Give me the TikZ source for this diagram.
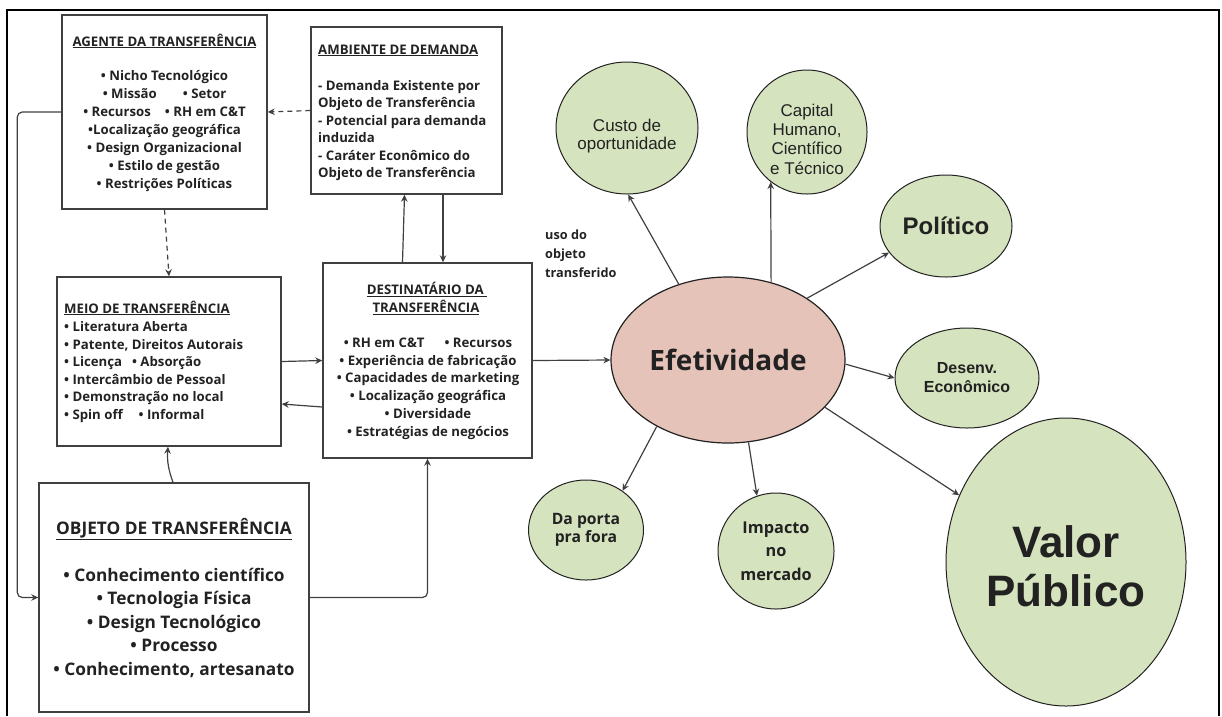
\documentclass[tikz,border=0pt]{standalone}
\usepackage{fontspec}
\setmainfont{Open Sans}
\newfontfamily\arialfont{Liberation Sans}
\usetikzlibrary{arrows.meta,shapes.geometric,calc}
\definecolor{boxline}{HTML}{404040}
\definecolor{ink}{HTML}{222222}
\definecolor{leaf}{RGB}{213,227,190}
\definecolor{rose}{RGB}{229,195,184}
\begin{document}
\begin{tikzpicture}[x=1pt,y=-1pt,
  box/.style={draw=boxline, line width=1.4pt, inner sep=0pt},
  txt/.style={text=ink, inner sep=0pt, font=\fontsize{13.2}{15}\selectfont\bfseries},
  bigtxt/.style={text=ink, inner sep=0pt, font=\fontsize{17.3}{20}\selectfont\bfseries},
  arr/.style={draw=boxline, line width=1.2pt, -{Stealth[length=7pt,width=6.5pt]}},
  darr/.style={arr, dash pattern=on 5pt off 4pt},
  leafnode/.style={ellipse, draw=ink, line width=1pt, fill=leaf, text=ink, align=center, inner sep=0pt},
  inlabel/.style={text=ink, align=center, inner sep=0pt},
]
\useasboundingbox (0,0) rectangle (1222,716);
% outer frame (open at the bottom)
\draw[line width=2pt, black] (7,716) -- (7,10) -- (1219,10) -- (1219,716);

% ---------- rectangular blocks ----------
\node[box, minimum width=205pt, minimum height=194pt] (agente) at (164.5,112) {};
\node[box, minimum width=191pt, minimum height=167pt] (amb) at (406.5,110.5) {};
\node[box, minimum width=224pt, minimum height=169pt] (meio) at (169,361.5) {};
\node[box, minimum width=209pt, minimum height=195pt] (dest) at (427.5,360.5) {};
\node[box, minimum width=270pt, minimum height=229pt] (objeto) at (174,597.5) {};

% Agente da transferencia
\node[txt, anchor=base] (agtT) at (164.5,46) {\underline{AGENTE DA TRANSFERÊNCIA}};
\foreach \t [count=\i] in {{• Nicho Tecnológico},
  {• Missão\hspace*{26pt}• Setor},
  {• Recursos\hspace*{14pt}• RH em C\&T},
  {•Localização geográfica},
  {• Design Organizacional},
  {• Estilo de gestão},
  {• Restrições Políticas}}
  \node[txt, anchor=base] (agt\i) at (164.5,{80+18*(\i-1)}) {\t};

% Ambiente de demanda
\node[txt, anchor=base west] (ambT) at (318,54) {\underline{AMBIENTE DE DEMANDA}};
\foreach \t [count=\i] in {{- Demanda Existente por},
  {Objeto de Transferência},
  {- Potencial para demanda},
  {induzida},
  {- Caráter Econômico do},
  {Objeto de Transferência}}
  \node[txt, anchor=base west] (amb\i) at (318,{90+17.5*(\i-1)}) {\t};

% Meio de transferencia
\node[txt, anchor=base west] (meioT) at (64,313) {\underline{MEIO DE TRANSFERÊNCIA}};
\foreach \t [count=\i] in {{• Literatura Aberta},
  {• Patente, Direitos Autorais},
  {• Licença\hspace*{10pt}• Absorção},
  {• Intercâmbio de Pessoal},
  {• Demonstração no local},
  {• Spin off\hspace*{16pt}• Informal}}
  \node[txt, anchor=base west] (meio\i) at (64,{331.5+17.5*(\i-1)}) {\t};

% Destinatario da transferencia
\node[txt, anchor=base] (destT1) at (427,294.5) {\underline{DESTINATÁRIO DA\ }};
\node[txt, anchor=base] (destT2) at (426,312.5) {\underline{TRANSFERÊNCIA}};
\foreach \t [count=\i] in {{• RH em C\&T\hspace*{20pt}• Recursos},
  {• Experiência de fabricação},
  {• Capacidades de marketing},
  {• Localização geográfica},
  {• Diversidade},
  {• Estratégias de negócios}}
  \node[txt, anchor=base] (dest\i) at (428,{347.5+17.7*(\i-1)}) {\t};

% Objeto de transferencia
\node[bigtxt, anchor=base] (objT) at (174,534) {\underline{OBJETO DE TRANSFERÊNCIA}};
\foreach \t [count=\i] in {{• Conhecimento científico},
  {• Tecnologia Física},
  {• Design Tecnológico},
  {• Processo},
  {• Conhecimento, artesanato}}
  \node[bigtxt, anchor=base] (obj\i) at (174,{581+23.5*(\i-1)}) {\t};

% label of the outgoing connector
\node[txt, anchor=base west, align=left, font=\fontsize{12.7}{19}\selectfont\bfseries] (uso) at (545,277) {uso do\\objeto\\transferido};

% ---------- connectors between blocks ----------
\draw[darr] (amb.west) -- (agente.east);
\draw[darr] (agente.south) -- (meio.north);
\draw[arr] (meio.east) -- (dest.west);
\draw[arr] ([yshift=-46.5pt]dest.west) -- ([yshift=-42.5pt]meio.east);
\draw[arr] ([xshift=-25pt]dest.north) -- ([xshift=-2pt]amb.south);
\draw[arr] ([xshift=36.5pt]amb.south) -- ([xshift=15.5pt]dest.north);
\draw[arr] ([xshift=-1pt]objeto.north) to[bend left=12] ([xshift=-1pt]meio.south);
\draw[arr, rounded corners=5pt] (objeto.east) -| (dest.south);
\draw[arr, rounded corners=5pt] (agente.west) -- ([xshift=-44pt]agente.west) |- (objeto.west);

% ---------- outcomes ----------
\node[ellipse, draw=ink, line width=1.2pt, fill=rose, text=ink, inner sep=0pt,
  minimum width=234pt, minimum height=166pt, font=\fontsize{28}{34}\selectfont\bfseries] (ef) at (728,360) {Efetividade};

\node[leafnode, minimum width=142pt, minimum height=132pt,
  label={[inlabel, name=custoT, yshift=-8pt, font=\arialfont\fontsize{17}{18}\selectfont]center:{Custo de\\oportunidade}}] (custo) at (627,128) {};
\node[leafnode, minimum width=120pt, minimum height=124pt,
  label={[inlabel, name=capitalT, yshift=-7pt, font=\arialfont\fontsize{17}{19.3}\selectfont]center:{Capital\\Humano,\\Científico\\e Técnico}}] (capital) at (807,132) {};
\node[leafnode, minimum width=132pt, minimum height=102pt, font=\arialfont\fontsize{24}{28}\selectfont\bfseries] (pol) at (946,226) {Político};
\node[leafnode, minimum width=144pt, minimum height=100pt, font=\arialfont\fontsize{16}{19}\selectfont\bfseries] (des) at (967,378) {Desenv.\\Econômico};
\node[leafnode, minimum width=240pt, minimum height=288pt,
  label={[inlabel, name=valT, yshift=-4pt, font=\arialfont\fontsize{44}{49}\selectfont\bfseries]center:{Valor\\Público}}] (val) at (1066,562) {};
\node[leafnode, minimum width=115pt, minimum height=100pt, font=\fontsize{15.7}{18.5}\selectfont\bfseries] (porta) at (586,530) {Da porta\\pra fora};
\node[leafnode, minimum width=116pt, minimum height=116pt, font=\fontsize{16.3}{23.5}\selectfont\bfseries] (imp) at (776,551) {Impacto\\no\\mercado};

\draw[arr] (dest.east) -- (ef.west);
\draw[arr] (ef.123) -- (custo.-89);
\draw[arr] (ef.61) -- (capital.-126);
\draw[arr] (ef.38) -- (pol.-155);
\draw[arr] (ef.-2) -- (des.180);
\draw[arr] (ef.-26) -- (val.148);
\draw[arr] (ef.-137) -- (porta.47);
\draw[arr] (ef.-76) -- (imp.109);
\end{tikzpicture}
\end{document}
